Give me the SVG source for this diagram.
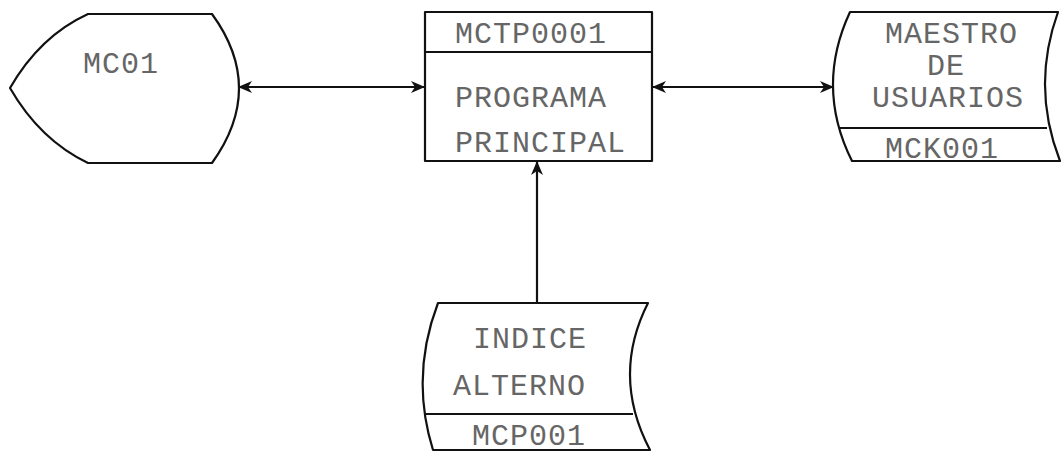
<svg xmlns="http://www.w3.org/2000/svg" width="1061" height="452" viewBox="0 0 1061 452">
<style>
.shape{fill:#fff;stroke:#111;stroke-width:2.2;stroke-linejoin:round}
.div{stroke:#111;stroke-width:2.2;fill:none}
.conn{stroke:#111;stroke-width:2.2;fill:none}
text{font-family:"Liberation Mono","Courier New",monospace;font-size:30px;fill:#666;letter-spacing:1px}
</style>
<defs>
<marker id="ah" viewBox="0 0 14 14" refX="13" refY="7" markerWidth="14" markerHeight="14" markerUnits="userSpaceOnUse" orient="auto-start-reverse">
<path d="M0,1 L14,7 L0,13 L4,7 Z" fill="#111"/>
</marker>
</defs>
<rect width="1061" height="452" fill="#fff"/>
<g id="connectors">
<line class="conn" x1="239" y1="87" x2="424" y2="87" marker-start="url(#ah)" marker-end="url(#ah)"/>
<line class="conn" x1="653" y1="87" x2="833" y2="87" marker-start="url(#ah)" marker-end="url(#ah)"/>
<line class="conn" x1="537" y1="303" x2="537" y2="162" marker-end="url(#ah)"/>
</g>
<g id="mc01">
<path class="shape" d="M88,14 L212,14 Q266,88 212,163 L88,163 Q40,140 10,88 Q40,36 88,14 Z"/>
<text x="83" y="73">MC01</text>
</g>
<g id="programa">
<rect class="shape" x="425" y="12" width="227" height="149"/>
<line class="div" x1="425" y1="52" x2="652" y2="52"/>
<text x="455" y="43">MCTP0001</text>
<text x="455" y="107">PROGRAMA</text>
<text x="455" y="152">PRINCIPAL</text>
</g>
<g id="maestro">
<path class="shape" d="M850,12 L1058,12 Q1031,87 1060,161 L852,161 Q815,87 850,12 Z"/>
<line class="div" x1="839" y1="128" x2="1047" y2="128"/>
<text x="885" y="43">MAESTRO</text>
<text x="927" y="75">DE</text>
<text x="872" y="107">USUARIOS</text>
<text x="885" y="158">MCK001</text>
</g>
<g id="indice">
<path class="shape" d="M438,303 L648,303 Q611,376 650,450 L433,450 Q410,376 438,303 Z"/>
<line class="div" x1="425" y1="414" x2="633" y2="414"/>
<text x="473" y="348">INDICE</text>
<text x="453" y="395">ALTERNO</text>
<text x="472" y="445">MCP001</text>
</g>
</svg>
